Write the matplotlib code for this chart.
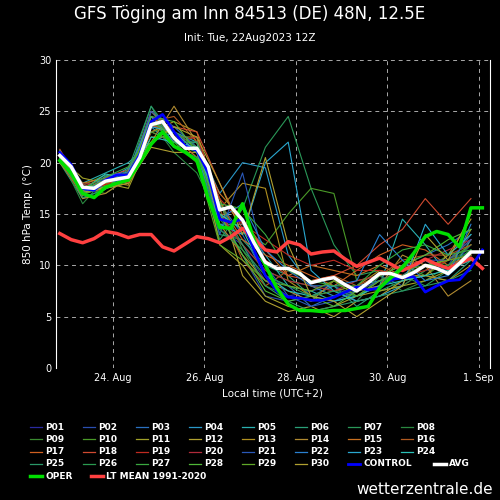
import matplotlib
matplotlib.use("Agg")
import matplotlib.pyplot as plt
from matplotlib.lines import Line2D
import numpy as np

avg = [20.7,19.6,17.6,17.5,18.2,18.4,18.6,20.5,23.7,24.0,22.4,21.4,21.4,19.6,15.4,15.7,14.4,12.2,10.3,9.7,
       9.7,9.2,8.3,8.6,8.8,8.1,7.5,8.3,9.2,9.2,8.8,9.3,10.0,9.7,9.2,10.2,11.3,11.3]
oper = [20.2,19.0,17.0,16.6,17.6,18.0,18.3,20.0,21.8,23.0,21.6,21.0,20.2,16.5,13.7,13.6,16.0,12.5,10.0,7.8,
        6.2,5.6,5.6,5.5,5.6,5.6,5.8,6.0,7.8,8.8,9.8,11.2,12.8,13.3,13.0,11.8,15.6,15.6]
control = [21.0,19.8,17.5,17.3,18.3,18.8,18.8,20.8,24.0,24.7,23.0,21.6,21.2,19.0,14.5,14.2,14.5,11.5,9.0,7.5,
           6.9,6.8,6.6,6.6,6.9,7.4,7.9,7.6,7.8,8.6,8.8,8.9,7.4,8.0,8.5,8.6,9.8,11.5]
ltmean = [13.1,12.5,12.2,12.6,13.3,13.1,12.7,13.0,13.0,11.8,11.4,12.1,12.8,12.6,12.2,12.8,13.6,12.6,11.5,11.3,
          12.3,12.0,11.1,11.3,11.4,10.6,9.9,10.3,10.7,10.1,9.5,10.0,10.6,10.1,9.7,10.2,10.7,9.7]
members = {
 "P01":[21.0,17.2,18.0,18.5,24.5,23.0,21.0,13.5,12.0,8.5,7.0,7.5,8.0,7.0,8.5,9.0,10.0,9.5,12.0],
 "P02":[20.8,17.0,17.5,19.0,24.0,22.0,22.5,15.0,11.0,7.0,6.5,7.0,8.0,6.5,9.0,8.0,9.5,10.0,13.0],
 "P03":[21.2,16.8,18.5,18.0,25.0,22.5,21.0,16.0,13.0,9.0,8.0,6.0,7.0,7.5,8.0,10.0,11.0,12.0,13.5],
 "P04":[20.5,17.5,18.2,19.5,23.5,21.5,22.0,17.0,20.0,19.5,11.0,8.0,7.0,8.0,8.5,9.0,10.5,9.0,11.0],
 "P05":[21.0,18.0,19.0,20.0,22.0,23.0,22.0,14.0,14.0,11.0,8.0,7.5,6.5,7.0,8.0,14.5,12.0,9.0,12.5],
 "P06":[20.0,16.5,17.5,18.0,24.5,22.0,21.0,13.0,12.5,10.0,9.0,7.0,8.0,6.0,7.5,8.5,9.0,8.5,10.5],
 "P07":[20.3,17.0,18.0,18.8,25.5,22.5,20.5,12.5,15.5,21.5,24.5,17.5,12.0,9.0,9.5,9.0,8.0,9.5,11.5],
 "P08":[20.6,16.0,18.5,19.0,24.0,21.0,19.0,14.5,12.0,9.5,8.5,8.0,7.5,6.5,9.0,7.5,8.5,10.0,12.0],
 "P09":[21.0,17.5,17.0,18.5,23.0,23.5,21.5,16.5,11.5,8.0,7.0,6.5,7.0,8.0,7.5,8.0,9.5,11.0,13.0],
 "P10":[20.2,17.8,18.8,18.2,24.0,22.0,20.0,15.0,13.5,12.0,15.0,17.5,17.0,8.5,9.0,10.0,9.0,10.5,12.0],
 "P11":[20.5,18.5,18.0,17.5,22.5,22.5,22.5,12.0,10.0,7.0,6.0,5.5,6.0,7.0,7.5,8.0,8.5,9.5,13.5],
 "P12":[21.0,17.0,17.5,18.0,21.5,21.0,21.0,16.5,9.0,6.5,5.5,6.0,5.0,6.5,7.0,8.5,9.0,11.0,14.5],
 "P13":[20.0,17.2,18.2,17.8,23.0,24.0,23.0,15.5,18.0,17.5,8.5,7.0,7.5,8.0,9.5,9.0,9.0,8.5,10.0],
 "P14":[20.8,16.5,17.0,18.5,22.0,25.5,22.0,14.0,11.0,8.5,7.5,6.5,8.5,7.5,8.0,11.0,10.0,7.0,8.5],
 "P15":[20.4,18.0,18.5,18.5,25.0,23.0,21.5,17.0,14.5,11.5,9.0,10.0,9.5,9.0,10.0,9.0,10.0,10.5,12.5],
 "P16":[20.9,17.3,17.8,19.2,24.0,24.5,22.0,15.5,10.5,8.0,9.5,8.5,9.0,8.0,9.0,10.5,11.0,11.0,12.0],
 "P17":[20.1,16.8,18.3,18.7,24.5,22.5,20.5,16.0,12.5,11.0,10.0,9.0,8.0,9.5,11.0,12.0,11.5,10.0,11.0],
 "P18":[21.3,17.6,18.6,19.3,23.5,23.5,23.0,18.0,13.5,10.5,9.0,8.5,9.0,10.0,12.0,13.5,16.5,14.0,16.5],
 "P19":[20.7,17.4,17.9,18.1,23.0,22.0,22.5,16.5,14.0,12.5,11.0,10.0,10.5,9.5,9.5,9.0,9.5,10.5,11.0],
 "P20":[20.3,17.9,18.1,18.9,24.0,23.0,21.0,15.0,12.0,9.5,8.5,8.0,7.5,8.5,9.0,10.0,10.5,11.5,12.5],
 "P21":[21.1,17.1,18.4,18.3,25.0,23.5,21.5,13.0,19.0,10.0,7.0,6.0,6.5,7.5,8.5,9.5,10.5,10.5,12.5],
 "P22":[20.6,16.9,18.7,19.1,24.5,22.0,22.0,14.5,16.0,11.5,9.5,8.0,8.0,8.5,13.0,10.5,8.5,9.0,14.0],
 "P23":[21.0,17.7,17.6,18.6,23.5,23.0,21.0,14.0,13.0,20.0,22.0,9.5,7.5,6.5,7.0,8.0,14.0,11.0,13.0],
 "P24":[20.4,17.3,18.9,18.4,22.5,22.0,21.5,15.0,13.5,9.0,7.5,7.0,6.5,7.0,8.0,8.5,9.0,9.5,10.5],
 "P25":[20.9,16.6,17.4,19.4,25.5,21.5,20.5,16.0,12.0,8.0,6.5,5.5,6.0,6.5,7.0,7.5,8.0,8.5,9.5],
 "P26":[20.2,17.0,18.1,18.9,24.0,23.0,21.5,13.5,11.5,9.0,8.0,7.0,7.5,7.0,8.5,9.0,10.0,10.0,11.5],
 "P27":[20.7,17.5,18.6,19.6,23.0,22.0,22.0,16.0,15.5,13.0,9.5,8.5,8.0,8.0,10.0,11.5,12.0,11.0,11.5],
 "P28":[21.2,16.9,17.7,18.3,24.5,24.0,21.0,15.0,11.0,7.5,6.5,7.0,6.0,7.5,9.0,10.0,11.0,12.5,13.5],
 "P29":[20.5,17.4,18.3,18.7,24.0,22.5,20.0,12.0,10.5,8.5,8.0,7.5,8.5,7.0,8.5,9.5,10.0,10.5,11.0],
 "P30":[20.9,17.1,17.6,18.2,22.0,23.5,22.5,18.0,13.0,20.5,12.0,7.0,6.5,5.0,6.5,8.0,13.0,10.5,15.0],
}
member_colors = ['#2a2aa0','#2a4fb0','#2a70c0','#2a98c8','#2ab0b0','#2aa078','#2a9858','#2a8840',
                 '#3a8a30','#4a9a28','#a0a028','#b0a030','#b09020','#b08a30','#c87020','#b05a20',
                 '#d06020','#d04a30','#c02a20','#b02a3a','#2a58b8','#2a80d0','#2aa8d0','#2ac0b8',
                 '#2a9868','#2a9a50','#3aa840','#50b838','#60a828','#b0a030']
xticks_labels = ['24. Aug','26. Aug','28. Aug','30. Aug','1. Sep']

t_main = np.arange(len(avg)) * 6.0
t_mem = np.arange(19) * 12.0

fig = plt.figure(figsize=(5, 5), dpi=100, facecolor='black')
ax = fig.add_axes([0.112, 0.264, 0.868, 0.616], facecolor='black')
for (name, vals), c in zip(members.items(), member_colors):
    ax.plot(t_mem, vals, color=c, lw=0.8)
ax.plot(t_main, ltmean, color='#ff4040', lw=2.5)
ax.plot(t_main, control, color='#0000ff', lw=2.0)
ax.plot(t_main, oper, color='#00e000', lw=2.5)
ax.plot(t_main, avg, color='white', lw=2.5)

ax.set_xlim(-2, 226)
ax.set_ylim(0, 30)
ax.set_xticks([28, 76, 124, 172, 220])
ax.set_xticklabels(xticks_labels)
ax.set_yticks(range(0, 31, 5))
ax.grid(True, color='#aaaaaa', ls=(0, (4, 4)), lw=0.7)
for s in ax.spines.values():
    s.set_color('white')
ax.spines['top'].set_visible(False)
ax.spines['bottom'].set_visible(False)
ax.tick_params(colors='white', labelsize=7, length=0)
ax.set_ylabel('850 hPa Temp. (°C)', color='white', fontsize=7.5)
ax.set_xlabel('Local time (UTC+2)', color='white', fontsize=7.5)

fig.text(0.5, 0.972, 'GFS Töging am Inn 84513 (DE) 48N, 12.5E', color='white', ha='center', va='center', fontsize=12)
fig.text(0.5, 0.924, 'Init: Tue, 22Aug2023 12Z', color='white', ha='center', va='center', fontsize=7.5)

labels = list(members.keys()) + ['CONTROL', 'AVG', 'OPER', 'LT MEAN 1991-2020']
colors = member_colors + ['#0000ff', 'white', '#00e000', '#ff4040']
widths = [0.9] * 30 + [2, 2.5, 2.5, 2.5]
for k, (lab, c, w) in enumerate(zip(labels, colors, widths)):
    col, row = k % 8, k // 8
    x0 = (30 + col * 53) / 500
    if lab == 'AVG':
        x0 = 434 / 500
    if lab == 'LT MEAN 1991-2020':
        x0 = 91 / 500
    y0 = 1 - (427 + row * 12.3) / 500
    fig.add_artist(Line2D([x0, x0 + 12 / 500], [y0, y0], color=c, lw=w, transform=fig.transFigure))
    fig.text(x0 + 15 / 500, y0, lab, color='white', fontsize=6.5, fontweight='bold', va='center', ha='left')
fig.text(0.985, 0.02, 'wetterzentrale.de', color='white', fontsize=11, ha='right', va='center')

fig.savefig('out.png', dpi=100, facecolor='black')
